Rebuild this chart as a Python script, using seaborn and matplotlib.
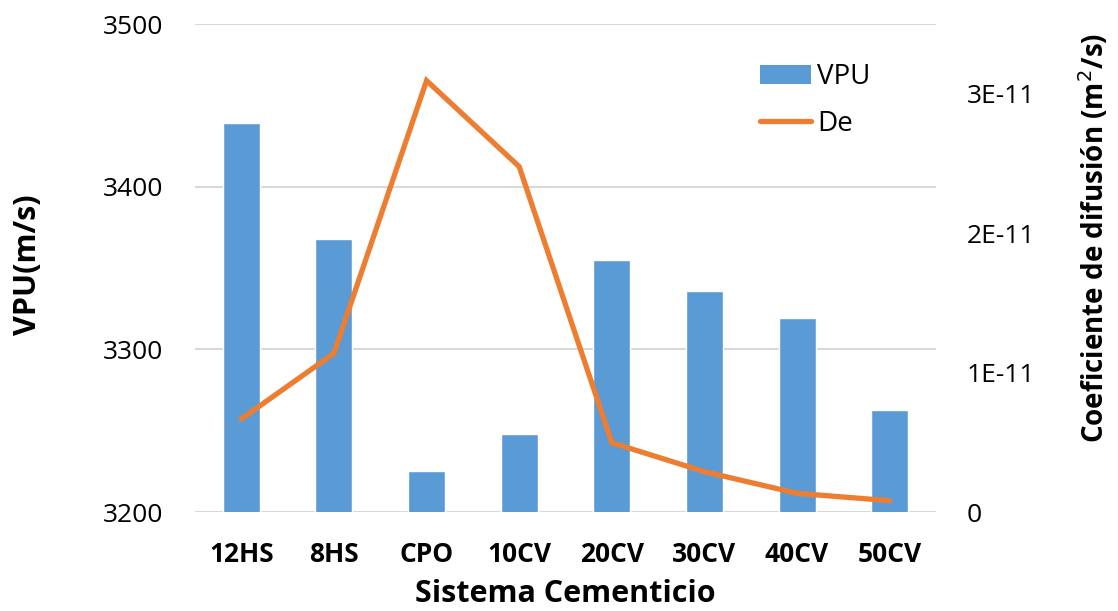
import numpy as np
import pandas as pd
import matplotlib
matplotlib.use("Agg")
import matplotlib.pyplot as plt
import seaborn as sns
from matplotlib.patches import Patch
from matplotlib.lines import Line2D

# Data
sistemas = ["12HS", "8HS", "CPO", "10CV", "20CV", "30CV", "40CV", "50CV"]
vpu = [3439, 3368, 3225, 3248, 3355, 3336, 3319, 3263]
de = [0.667e-11, 1.138e-11, 3.094e-11, 2.477e-11, 0.497e-11, 0.289e-11, 0.134e-11, 0.081e-11]

left_ticks = [3200, 3300, 3400, 3500]
right_ticks = [0, 1e-11, 2e-11, 3e-11]
right_labels = ["0", "1E-11", "2E-11", "3E-11"]

bar_color = "#5B9BD5"
line_color = "#ED7D31"
grid_color = "#D9D9D9"

sns.set_theme(style="white")
plt.rcParams["font.family"] = ["Open Sans", "DejaVu Sans"]
plt.rcParams["text.color"] = "black"
plt.rcParams["xtick.color"] = "black"
plt.rcParams["ytick.color"] = "black"
plt.rcParams["axes.labelcolor"] = "black"

df = pd.DataFrame({"sistema": sistemas, "vpu": vpu, "de": de})

W, H = 1118, 611
fig = plt.figure(figsize=(W / 100, H / 100), dpi=100)
ax = fig.add_axes([195 / W, 1 - 512 / H, (936 - 195) / W, (512 - 24) / H])

sns.barplot(data=df, x="sistema", y="vpu", color=bar_color, width=0.4,
            saturation=1, ax=ax, zorder=2)
ax.set_ylim(3200, 3500)
ax.set_xlim(-0.5, len(sistemas) - 0.5)
ax.set_yticks(left_ticks)
ax.yaxis.grid(True, color=grid_color, linewidth=1.5, zorder=0)
ax.set_axisbelow(True)
for s in ax.spines.values():
    s.set_visible(False)
ax.tick_params(axis="both", length=0)
ax.tick_params(axis="y", labelsize=19, pad=23)
ax.tick_params(axis="x", pad=21)
for lab in ax.get_xticklabels():
    lab.set_fontsize(19)
    lab.set_fontweight("bold")
ax.set_xlabel("")
ax.set_ylabel("")

fig.text(565 / W, 1 - 602 / H, "Sistema Cementicio", fontsize=22,
         fontweight="bold", ha="center", va="baseline")
fig.text(28 / W, 1 - 265 / H, "VPU(m/s)", fontsize=22, fontweight="bold",
         rotation=90, ha="center", va="center")

ax2 = ax.twinx()
sns.lineplot(x=np.arange(len(sistemas)), y=de, color=line_color, linewidth=3.8,
             ax=ax2, sort=False, solid_capstyle="round", solid_joinstyle="miter")
ax2.set_ylim(0, 3.5e-11)
ax2.set_yticks(right_ticks)
ax2.set_yticklabels(right_labels)
ax2.grid(False)
for s in ax2.spines.values():
    s.set_visible(False)
ax2.tick_params(axis="y", length=0, labelsize=19, pad=22)
ax2.yaxis.get_offset_text().set_visible(False)
ax2.set_ylabel("")

fig.text(1094 / W, 1 - 238 / H, "Coeficiente de difusión (m$^2$/s)", fontsize=20,
         fontweight="bold", rotation=90, ha="center", va="center")

handles = [Patch(facecolor=bar_color, edgecolor="none"),
           Line2D([0], [0], color=line_color, linewidth=3.8, solid_capstyle="round")]
ax2.legend(handles, ["VPU", "De"], loc="upper left",
           bbox_to_anchor=((760 - 195) / 741, (512 - 63) / 488),
           frameon=False, fontsize=20, handlelength=1.85, handletextpad=0.2,
           labelspacing=0.68, borderaxespad=0, borderpad=0)

fig.savefig("out.png", dpi=100)
